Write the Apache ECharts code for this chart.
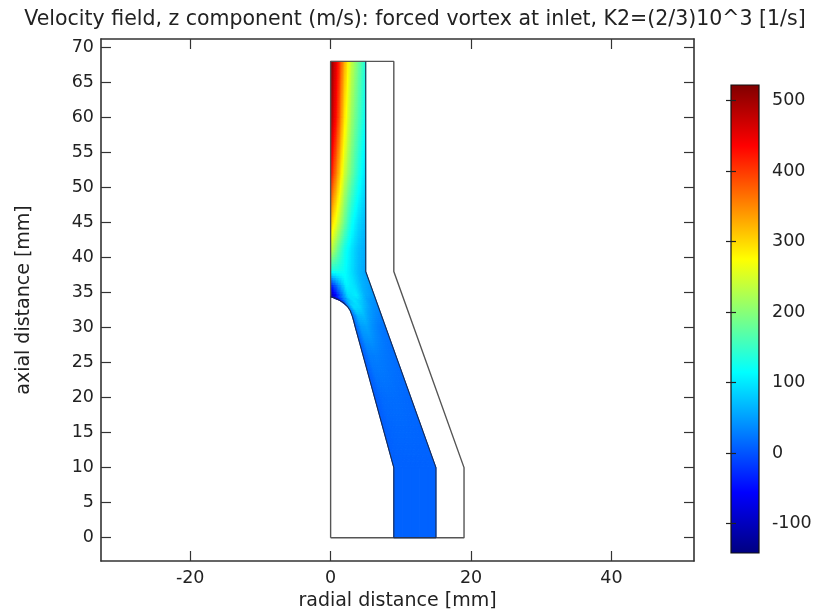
<!DOCTYPE html>
<html>
<head>
<meta charset="utf-8">
<style>html,body{margin:0;padding:0;background:#fff}#c{width:817px;height:611px}</style>
<script src="https://cdn.jsdelivr.net/npm/echarts@6/dist/echarts.min.js"></script>
</head>
<body>
<div id="c"></div>
<script>
var titleText = 'Velocity field, z component (m/s): forced vortex at inlet, K2=(2/3)10^3 [1/s]';
var xTicks = [-20, 0, 20, 40];
var yTicks = [0, 5, 10, 15, 20, 25, 30, 35, 40, 45, 50, 55, 60, 65, 70];
var barTicks = [-100, 0, 100, 200, 300, 400, 500];
var colorValues = [-141.5, -55, 115, 275, 435, 522];
var colorList = ['#00007f', '#0000ff', '#00ffff', '#ffff00', '#ff0000', '#7f0000'];

// channel outline (mm)
var outerR = [0, 19, 19, 9, 9, 0, 0];
var outerZ = [0, 0, 10, 38, 68, 68, 0];
var channelR = [5, 5, 15, 15, 9, 9, 3.5, 3.3, 3.1, 2.8, 2.4, 1.9, 1.33, 0.7, 0];
var channelZ = [68, 38, 10, 0, 0, 10, 30.1, 30.9, 31.6, 32.4, 33, 33.5, 33.85, 34.2, 34.4];

// field stations: z, channel inner/outer radius, velocity at equal fractions across the channel
var stationZ = [68, 60, 52, 45, 41, 38, 36, 34.4, 33.85, 33, 32.4, 31.6, 30.1, 26, 20, 10, 0];
var stationIn = [0, 0, 0, 0, 0, 0, 0, 0, 1.33, 2.4, 2.8, 3.1, 3.5, 4.64, 6.27, 9, 9];
var stationOut = [5, 5, 5, 5, 5, 5, 5.71, 6.29, 6.48, 6.79, 7, 7.29, 7.82, 9.29, 11.43, 15, 15];
var fieldRows = [
  [522, 440, 330, 240, 185, 135],
  [505, 415, 295, 215, 165, 120],
  [440, 345, 245, 185, 135, 95],
  [320, 255, 185, 125, 90, 70],
  [245, 185, 130, 98, 72, 60],
  [130, 130, 120, 95, 70, 55],
  [-40, 40, 110, 95, 65, 50],
  [-130, -20, 90, 105, 60, 45],
  [-60, 60, 100, 80, 50, 40],
  [20, 95, 90, 65, 45, 35],
  [20, 85, 80, 55, 42, 33],
  [10, 65, 70, 50, 38, 28],
  [5, 50, 55, 40, 28, 22],
  [5, 28, 30, 26, 22, 18],
  [5, 16, 18, 18, 16, 14],
  [10, 10, 10, 10, 10, 10],
  [10, 10, 10, 10, 10, 10]
];

function hexRgb(h) {
  return [parseInt(h.substr(1, 2), 16), parseInt(h.substr(3, 2), 16), parseInt(h.substr(5, 2), 16)];
}
var colorRgb = colorList.map(hexRgb);
function colorOf(v) {
  var n = colorValues.length;
  if (v <= colorValues[0]) return 'rgb(' + colorRgb[0].join(',') + ')';
  for (var i = 1; i < n; i++) {
    if (v <= colorValues[i]) {
      var t = (v - colorValues[i - 1]) / (colorValues[i] - colorValues[i - 1]);
      var a = colorRgb[i - 1], b = colorRgb[i];
      return 'rgb(' + Math.round(a[0] + (b[0] - a[0]) * t) + ',' + Math.round(a[1] + (b[1] - a[1]) * t) + ',' + Math.round(a[2] + (b[2] - a[2]) * t) + ')';
    }
  }
  return 'rgb(' + colorRgb[n - 1].join(',') + ')';
}

var cellData = [];
for (var s = 0; s < stationZ.length - 1; s++) {
  for (var f = 0; f < fieldRows[0].length - 1; f++) cellData.push([s, f]);
}
var fracCount = fieldRows[0].length - 1;

function renderCell(params, api) {
  var s = api.value(0), f = api.value(1);
  var z0 = stationZ[s], z1 = stationZ[s + 1];
  function at(u, v) {
    var ri = stationIn[s] + (stationIn[s + 1] - stationIn[s]) * v;
    var ro = stationOut[s] + (stationOut[s + 1] - stationOut[s]) * v;
    var fr = (f + u) / fracCount;
    return api.coord([ri + (ro - ri) * fr, z0 + (z1 - z0) * v]);
  }
  function val(u, v) {
    var a = fieldRows[s][f] + (fieldRows[s][f + 1] - fieldRows[s][f]) * u;
    var b = fieldRows[s + 1][f] + (fieldRows[s + 1][f + 1] - fieldRows[s + 1][f]) * u;
    return a + (b - a) * v;
  }
  var flat = fieldRows[s][f] === fieldRows[s][f + 1] && fieldRows[s + 1][f] === fieldRows[s + 1][f + 1] && fieldRows[s][f] === fieldRows[s + 1][f];
  var h = Math.abs(at(0, 1)[1] - at(0, 0)[1]);
  var w = Math.abs(at(1, 0)[0] - at(0, 0)[0]);
  var nv = flat ? 1 : Math.max(1, Math.ceil(h / 2.5));
  var nu = flat ? 1 : Math.max(1, Math.ceil(w / 1.5));
  var children = [];
  for (var i = 0; i < nu; i++) {
    for (var j = 0; j < nv; j++) {
      var u0 = i / nu, u1 = (i + 1) / nu, v0 = j / nv, v1 = (j + 1) / nv;
      var c = colorOf(val((u0 + u1) / 2, (v0 + v1) / 2));
      children.push({
        type: 'polygon',
        shape: { points: [at(u0, v0), at(u1, v0), at(u1, v1), at(u0, v1)] },
        style: { fill: c, stroke: c, lineWidth: 1 },
        silent: true
      });
    }
  }
  return { type: 'group', children: children };
}

function renderBar(params, api) {
  var top = api.coord([0, api.value(1)]);
  var bot = api.coord([1, api.value(0)]);
  var span = api.value(1) - api.value(0);
  return {
    type: 'rect',
    shape: { x: top[0], y: top[1], width: bot[0] - top[0], height: bot[1] - top[1] },
    style: {
      fill: new echarts.graphic.LinearGradient(0, 1, 0, 0, colorValues.map(function (v, i) {
        return { offset: (v - api.value(0)) / span, color: colorList[i] };
      })),
      stroke: '#111',
      lineWidth: 1.2
    },
    silent: true
  };
}

var axisColor = '#333';
var fontName = '"DejaVu Sans"';
var tickFont = 17.5;
var axisLineStyle = { color: axisColor, width: 1.6 };
var chart = echarts.init(document.getElementById('c'));
chart.setOption({
  animation: false,
  backgroundColor: '#fff',
  title: {
    text: titleText, left: 410, top: 4, textAlign: 'center',
    textStyle: { fontFamily: fontName, fontSize: 20.5, fontWeight: 'normal', color: '#222' }
  },
  grid: [
    { left: 101, right: 123, top: 39, bottom: 50, outerBoundsMode: 'none' },
    { left: 731, width: 28, top: 85, height: 468, outerBoundsMode: 'none' }
  ],
  xAxis: [
    {
      gridIndex: 0, type: 'value', min: -32.7, max: 51.75, position: 'bottom',
      splitLine: { show: false },
      axisLine: { onZero: false, lineStyle: axisLineStyle },
      axisTick: { inside: true, length: 10, lineStyle: { color: axisColor, width: 1.2 }, customValues: xTicks },
      axisLabel: { fontFamily: fontName, fontSize: tickFont, color: '#222', margin: 8, customValues: xTicks },
      name: 'radial distance [mm]', nameLocation: 'middle', nameGap: 28,
      nameTextStyle: { fontFamily: fontName, fontSize: 19, color: '#222' }
    },
    {
      gridIndex: 0, type: 'value', min: -32.7, max: 51.75, position: 'top',
      splitLine: { show: false },
      axisLine: { onZero: false, lineStyle: axisLineStyle },
      axisTick: { inside: true, length: 10, lineStyle: { color: axisColor, width: 1.2 }, customValues: xTicks },
      axisLabel: { show: false }
    },
    {
      gridIndex: 1, type: 'value', min: 0, max: 1, show: false
    }
  ],
  yAxis: [
    {
      gridIndex: 0, type: 'value', min: -3.33, max: 71.2, position: 'left',
      splitLine: { show: false },
      axisLine: { onZero: false, lineStyle: axisLineStyle },
      axisTick: { inside: true, length: 10, lineStyle: { color: axisColor, width: 1.2 }, customValues: yTicks },
      axisLabel: { fontFamily: fontName, fontSize: tickFont, color: '#222', margin: 7, customValues: yTicks },
      name: 'axial distance [mm]', nameLocation: 'middle', nameGap: 67,
      nameTextStyle: { fontFamily: fontName, fontSize: 19, color: '#222' }
    },
    {
      gridIndex: 0, type: 'value', min: -3.33, max: 71.2, position: 'right',
      splitLine: { show: false },
      axisLine: { onZero: false, lineStyle: axisLineStyle },
      axisTick: { inside: true, length: 10, lineStyle: { color: axisColor, width: 1.2 }, customValues: yTicks },
      axisLabel: { show: false }
    },
    {
      gridIndex: 1, type: 'value', min: colorValues[0], max: colorValues[colorValues.length - 1], position: 'right',
      splitLine: { show: false },
      axisLine: { show: false },
      axisTick: { show: true, inside: true, length: 5, lineStyle: { color: '#222', width: 1.2 }, customValues: barTicks },
      axisLabel: { fontFamily: fontName, fontSize: tickFont, color: '#222', margin: 13, customValues: barTicks }
    },
    {
      gridIndex: 1, type: 'value', min: colorValues[0], max: colorValues[colorValues.length - 1], position: 'left',
      splitLine: { show: false },
      axisLine: { show: false },
      axisTick: { show: true, inside: true, length: 5, lineStyle: { color: '#222', width: 1.2 }, customValues: barTicks },
      axisLabel: { show: false }
    }
  ],
  series: [
    {
      type: 'custom', xAxisIndex: 0, yAxisIndex: 0, coordinateSystem: 'cartesian2d',
      data: cellData, renderItem: renderCell, silent: true, z: 2
    },
    {
      type: 'line', xAxisIndex: 0, yAxisIndex: 0, symbol: 'none', silent: true, z: 3,
      data: outerR.map(function (r, i) { return [r, outerZ[i]]; }),
      lineStyle: { color: '#555', width: 1.4 }
    },
    {
      type: 'line', xAxisIndex: 0, yAxisIndex: 0, symbol: 'none', silent: true, z: 3, smooth: false,
      data: channelR.map(function (r, i) { return [r, channelZ[i]]; }),
      lineStyle: { color: '#1a2a50', width: 1.1 }
    },
    {
      type: 'custom', xAxisIndex: 2, yAxisIndex: 2, coordinateSystem: 'cartesian2d',
      data: [[colorValues[0], colorValues[colorValues.length - 1]]],
      encode: { y: [0, 1] }, renderItem: renderBar, silent: true, z: -1
    }
  ]
});
</script>
</body>
</html>
